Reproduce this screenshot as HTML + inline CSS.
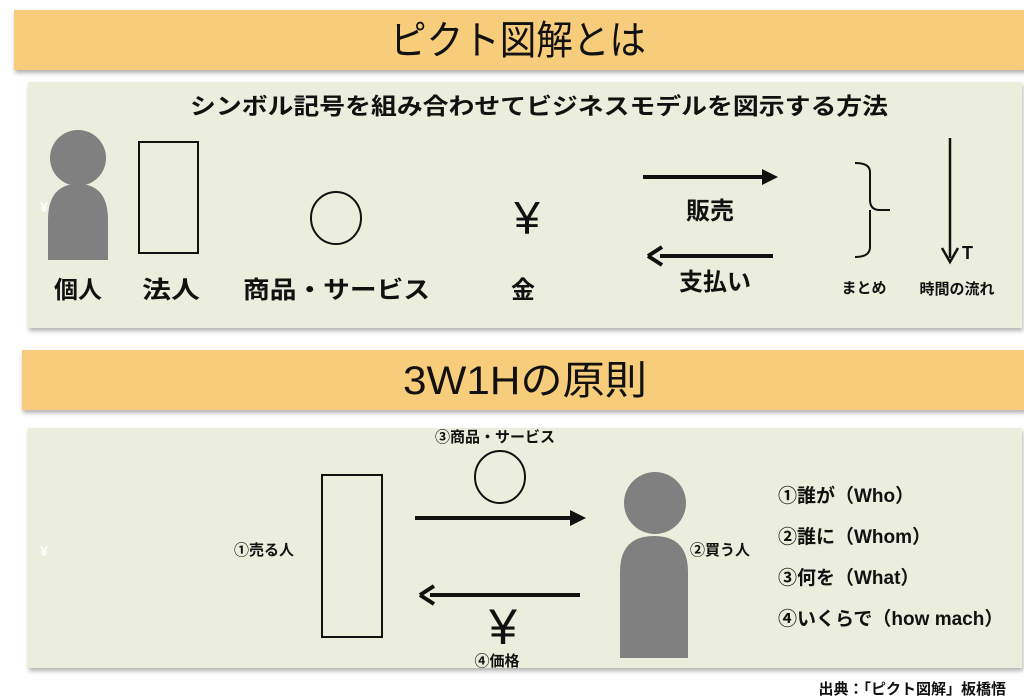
<!DOCTYPE html>
<html><head><meta charset="utf-8"><style>
html,body{margin:0;padding:0;background:#fff;}
svg{display:block;}
text{font-family:"Liberation Sans","Noto Sans CJK JP",sans-serif;font-weight:bold;fill:#111;}
text.n{font-weight:normal;}
</style></head><body>
<svg width="1024" height="698" viewBox="0 0 1024 698" xmlns="http://www.w3.org/2000/svg">
<defs>
<filter id="sh" x="-5%" y="-5%" width="110%" height="120%"><feDropShadow dx="1" dy="3" stdDeviation="2" flood-color="#000" flood-opacity="0.3"/></filter>
</defs>
<rect x="14" y="10" width="1012" height="60" fill="#f7cc7a" filter="url(#sh)"/>
<text class="n" x="390" y="54" font-size="40" textLength="256" lengthAdjust="spacingAndGlyphs">ピクト図解とは</text>
<rect x="28" y="82" width="994" height="246" fill="#ebeedd" filter="url(#sh)"/>
<text x="190" y="114" font-size="23" textLength="698" lengthAdjust="spacingAndGlyphs">シンボル記号を組み合わせてビジネスモデルを図示する方法</text>
<circle cx="78" cy="158" r="28" fill="#808080"/>
<path d="M48 260 V220 Q48 184 78 184 Q108 184 108 220 V260 Z" fill="#808080"/>
<text x="40" y="212" font-size="14" style="fill:#fff">¥</text>
<rect x="139" y="142" width="59" height="111" fill="none" stroke="#111" stroke-width="2"/>
<ellipse cx="336" cy="218" rx="25" ry="26" fill="none" stroke="#111" stroke-width="2"/>
<text class="n" x="527" y="234" font-size="46" text-anchor="middle">¥</text>
<line x1="643" y1="177" x2="765" y2="177" stroke="#111" stroke-width="4"/>
<path d="M778 177 L762 169 L762 185 Z" fill="#111"/>
<text x="710" y="219" font-size="24" text-anchor="middle">販売</text>
<line x1="660" y1="256" x2="773" y2="256" stroke="#111" stroke-width="4"/>
<path d="M648 256 L662 247 M648 256 L662 265" stroke="#111" stroke-width="4" fill="none"/>
<text x="715" y="290" font-size="24" text-anchor="middle">支払い</text>
<path d="M855 163 Q870 163 870 172 V200 Q870 210 880 210 H890 M870 210 Q870 210 870 220 V247 Q870 257 855 257" fill="none" stroke="#111" stroke-width="2"/>
<line x1="950" y1="138" x2="950" y2="258" stroke="#111" stroke-width="2.5"/>
<path d="M942 248 L950 262 L958 248" fill="none" stroke="#111" stroke-width="2.5"/>
<text x="962" y="259" font-size="18">T</text>
<text x="54" y="298" font-size="24" textLength="48" lengthAdjust="spacingAndGlyphs">個人</text>
<text x="142" y="298" font-size="24" textLength="58" lengthAdjust="spacingAndGlyphs">法人</text>
<text x="243" y="298" font-size="24" textLength="187" lengthAdjust="spacingAndGlyphs">商品・サービス</text>
<text x="523" y="298" font-size="24" text-anchor="middle">金</text>
<text x="864" y="293" font-size="15" text-anchor="middle">まとめ</text>
<text x="957" y="294" font-size="15" text-anchor="middle">時間の流れ</text>
<rect x="22" y="350" width="1004" height="60" fill="#f7cc7a" filter="url(#sh)"/>
<text class="n" x="403" y="394" font-size="40" textLength="244" lengthAdjust="spacingAndGlyphs">3W1Hの原則</text>
<rect x="28" y="428" width="994" height="240" fill="#ebeedd" filter="url(#sh)"/>
<text x="40" y="556" font-size="14" style="fill:#fff">¥</text>
<text x="495" y="442" font-size="15" text-anchor="middle">③商品・サービス</text>
<ellipse cx="500" cy="477" rx="25" ry="26" fill="none" stroke="#111" stroke-width="2"/>
<rect x="322" y="475" width="60" height="162" fill="none" stroke="#111" stroke-width="2"/>
<text x="264" y="555" font-size="15" text-anchor="middle">①売る人</text>
<line x1="415" y1="518" x2="572" y2="518" stroke="#111" stroke-width="4"/>
<path d="M586 518 L570 510 L570 526 Z" fill="#111"/>
<line x1="430" y1="595" x2="580" y2="595" stroke="#111" stroke-width="4"/>
<path d="M420 595 L434 586 M420 595 L434 604" stroke="#111" stroke-width="4" fill="none"/>
<text class="n" x="503" y="644" font-size="50" text-anchor="middle">¥</text>
<text x="497" y="666" font-size="15" text-anchor="middle">④価格</text>
<circle cx="655" cy="503" r="31" fill="#808080"/>
<path d="M620 658 V572 Q620 536 654 536 Q688 536 688 572 V658 Z" fill="#808080"/>
<text x="720" y="555" font-size="15" text-anchor="middle">②買う人</text>
<text x="778" y="502" font-size="19">①誰が（Who）</text>
<text x="778" y="543" font-size="19">②誰に（Whom）</text>
<text x="778" y="584" font-size="19">③何を（What）</text>
<text x="778" y="625" font-size="19">④いくらで（how mach）</text>
<text x="1006" y="694" font-size="15" text-anchor="end">出典：「ピクト図解」板橋悟</text>
</svg>
</body></html>
